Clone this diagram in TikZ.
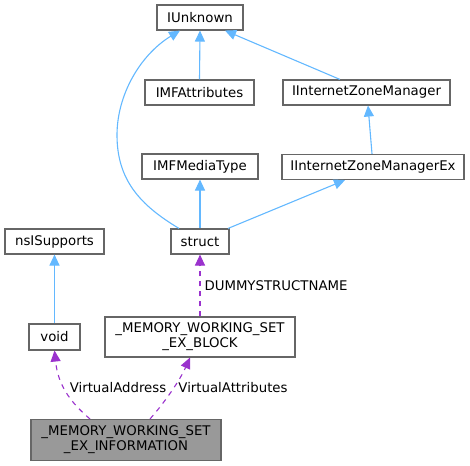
\documentclass[tikz,border=0pt]{standalone}
\usepackage{fontspec}
\setmainfont{DejaVu Sans}
\usetikzlibrary{arrows.meta}
\definecolor{edgeblue}{HTML}{63B8FF}
\definecolor{edgepurple}{HTML}{9A32CD}
\definecolor{boxgray}{HTML}{666666}
\definecolor{mainfill}{HTML}{999999}
\begin{document}
\begin{tikzpicture}[x=1pt,y=-1pt,
  cls/.style={draw=boxgray, line width=1.1pt, fill=white, rectangle, inner sep=0pt,
    font=\fontsize{13.3}{15}\selectfont, align=center, text=black},
  inh/.style={draw=edgeblue, line width=1.1pt, -{Triangle[width=10pt,length=11pt,fill=edgeblue]}},
  use/.style={draw=edgepurple, line width=1.1pt, dash pattern=on 5pt off 5pt,
    -{Triangle[width=10pt,length=11pt,fill=edgepurple]}},
  lbl/.style={font=\fontsize{13.3}{15}\selectfont, text=black, inner sep=0pt}]
\useasboundingbox (0,0) rectangle (470,465);
\node[cls, minimum width=86pt, minimum height=25pt] (iunk) at (200,17.5) {IUnknown};
\node[cls, minimum width=109pt, minimum height=25pt] (imfa) at (199.5,92.5) {IMFAttributes};
\node[cls, minimum width=167pt, minimum height=25pt] (izm) at (366.5,92.5) {IInternetZoneManager};
\node[cls, minimum width=116pt, minimum height=25pt] (imfm) at (200,166.5) {IMFMediaType};
\node[cls, minimum width=182pt, minimum height=25pt] (izmex) at (373,167) {IInternetZoneManagerEx};
\node[cls, minimum width=99pt, minimum height=25pt] (nsi) at (54.5,241.5) {nsISupports};
\node[cls, minimum width=58pt, minimum height=25pt] (struct) at (200,241.5) {struct};
\node[cls, minimum width=51pt, minimum height=26pt] (void) at (54.5,337) {void};
\node[cls, minimum width=190pt, minimum height=40pt] (block) at (200,337) {\_MEMORY\_WORKING\_SET\\\_EX\_BLOCK};
\node[cls, fill=mainfill, minimum width=190pt, minimum height=41pt] (info) at (126,440) {\_MEMORY\_WORKING\_SET\\\_EX\_INFORMATION};

\draw[inh] (imfa.north) -- (iunk.south);
\draw[inh] ([xshift=-26.5pt]izm.north) -- ([xshift=25pt]iunk.south);
\draw[inh] ([xshift=-1pt]izmex.north) -- ([xshift=1.5pt]izm.south);
\draw[inh] ([xshift=-21pt]struct.north) .. controls (140,205) and (117,180) .. (117,135)
  .. controls (117,95) and (140,55) .. ([xshift=-20pt]iunk.south);
\draw[inh] (struct.north) -- (imfm.south);
\draw[inh] ([xshift=28pt]struct.north) -- ([xshift=-28pt]izmex.south);
\draw[inh] (void.north) -- (nsi.south);

\draw[use] (block.north) -- node[lbl, anchor=west, xshift=4pt] (l1) {DUMMYSTRUCTNAME} (struct.south);
\draw[use] ([xshift=-36pt]info.north) .. controls (70,402) and (58,385) .. (void.south);
\draw[use] ([xshift=24pt]info.north) .. controls (165,402) and (180,380) .. ([xshift=-10pt]block.south);
\node[lbl] (l2) at (118,388) {VirtualAddress};
\node[lbl] (l3) at (233,388) {VirtualAttributes};
\end{tikzpicture}
\end{document}
